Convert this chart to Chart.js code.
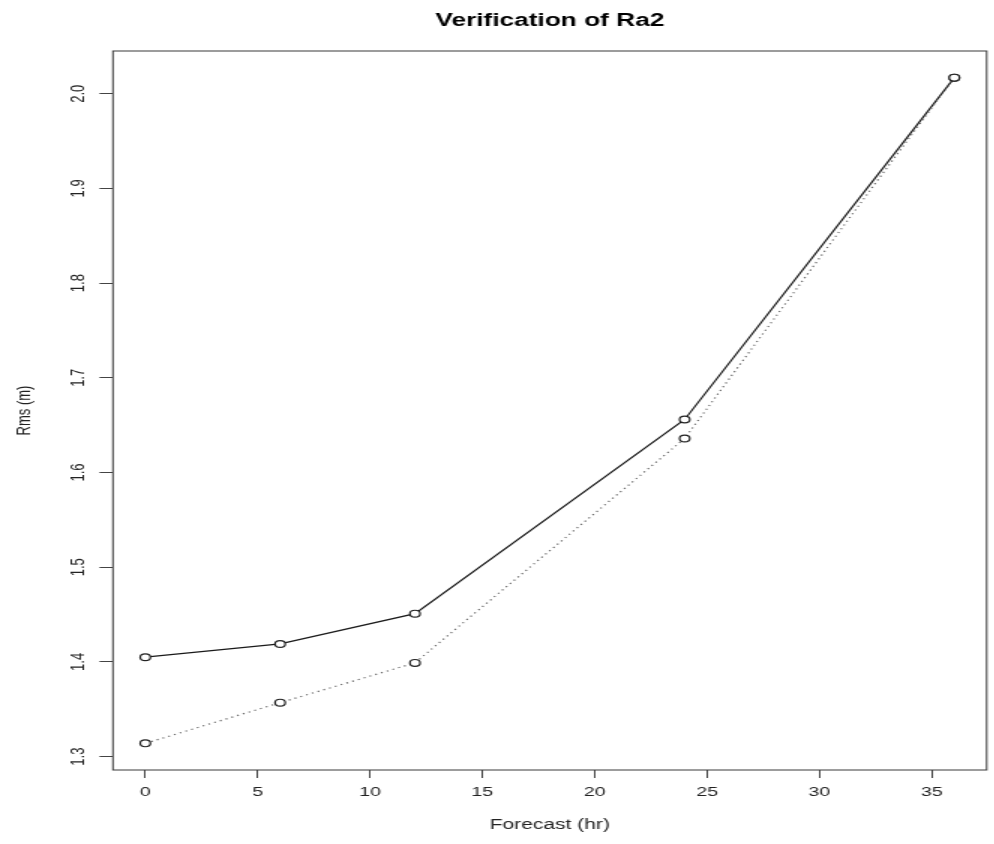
<!DOCTYPE html>
<html>
<head>
<meta charset="utf-8">
<title>Verification of Ra2</title>
<script src="https://cdn.jsdelivr.net/npm/chart.js@4/dist/chart.umd.min.js"></script>
<style>
  html, body { margin: 0; padding: 0; background: #fff; overflow: hidden; }
  /* the reference is stretched sideways, so draw narrow and widen */
  #chart { display: block; transform: scaleX(1.5); transform-origin: 0 0; }
</style>
</head>
<body>
<canvas id="chart" width="663" height="844"></canvas>
<script>
"use strict";

const hours = [0, 6, 12, 24, 36];
const rmsSolid = [1.405, 1.419, 1.451, 1.656, 2.017];
const rmsDotted = [1.314, 1.357, 1.399, 1.636, 2.017];
const xTicks = [0, 5, 10, 15, 20, 25, 30, 35];
const yTicks = [1.3, 1.4, 1.5, 1.6, 1.7, 1.8, 1.9, 2.0];

const FONT = "'Liberation Sans', Arial, Helvetica, sans-serif";

// R style limits: data range widened by 4% on each side
function rRange(values) {
  const lo = Math.min(...values);
  const hi = Math.max(...values);
  const pad = (hi - lo) * 0.04;
  return { min: lo - pad, max: hi + pad };
}

const xr = rRange(hours);
const yr = rRange(rmsSolid.concat(rmsDotted));

const boxPlugin = {
  id: "box",
  afterDraw(chart) {
    const { ctx, chartArea: a } = chart;
    ctx.save();
    ctx.strokeStyle = "#3a3a3a";
    ctx.lineWidth = 1;
    ctx.strokeRect(a.left, a.top, a.right - a.left, a.bottom - a.top);
    ctx.restore();
  },
};

function series(label, data, dash, color) {
  return {
    label,
    data: hours.map((h, i) => ({ x: h, y: data[i] })),
    borderColor: color,
    borderWidth: 1.2,
    borderDash: dash,
    pointRadius: 3.4,
    pointBorderWidth: 1.2,
    pointBorderColor: "#222",
    pointBackgroundColor: "#fff",
    tension: 0,
    fill: false,
  };
}

new Chart(document.getElementById("chart"), {
  type: "line",
  data: {
    datasets: [
      series("dotted", rmsDotted, [1.2, 3], "#666"),
      series("solid", rmsSolid, [], "#1a1a1a"),
    ],
  },
  plugins: [boxPlugin],
  options: {
    responsive: false,
    animation: false,
    devicePixelRatio: 1,
    layout: { padding: { left: 0, right: 4, top: 0, bottom: 0 } },
    plugins: {
      legend: { display: false },
      tooltip: { enabled: false },
      title: {
        display: true,
        fullSize: false,
        text: "Verification of Ra2",
        color: "#000",
        font: { family: FONT, size: 17.5, weight: "bold" },
        padding: { top: 11, bottom: 19 },
      },
    },
    scales: {
      x: {
        type: "linear",
        min: xr.min,
        max: xr.max,
        afterBuildTicks: (s) => { s.ticks = xTicks.map((v) => ({ value: v })); },
        afterFit: (s) => { s.height = 74; },
        grid: { drawOnChartArea: false, drawTicks: true, tickLength: 8, color: "#444" },
        border: { display: false },
        ticks: {
          color: "#222",
          padding: 7,
          maxRotation: 0,
          font: { family: FONT, size: 13 },
          callback: (v) => String(v),
        },
        title: {
          display: true,
          text: "Forecast (hr)",
          color: "#222",
          font: { family: FONT, size: 14 },
          padding: { top: 0, bottom: 10 },
        },
      },
      y: {
        type: "linear",
        min: yr.min,
        max: yr.max,
        afterBuildTicks: (s) => { s.ticks = yTicks.map((v) => ({ value: v })); },
        afterFit: (s) => { s.width = 75.3; },
        grid: { drawOnChartArea: false, drawTicks: true, tickLength: 9, color: "#444" },
        border: { display: false },
        ticks: {
          color: "#222",
          padding: 5,
          minRotation: 90,
          maxRotation: 90,
          crossAlign: "center",
          font: { family: FONT, size: 13 },
          callback: (v) => Number(v).toFixed(1),
        },
        title: {
          display: true,
          text: "Rms (m)",
          color: "#222",
          font: { family: FONT, size: 13 },
          padding: { top: 9, bottom: 0 },
        },
      },
    },
  },
});
</script>
</body>
</html>
